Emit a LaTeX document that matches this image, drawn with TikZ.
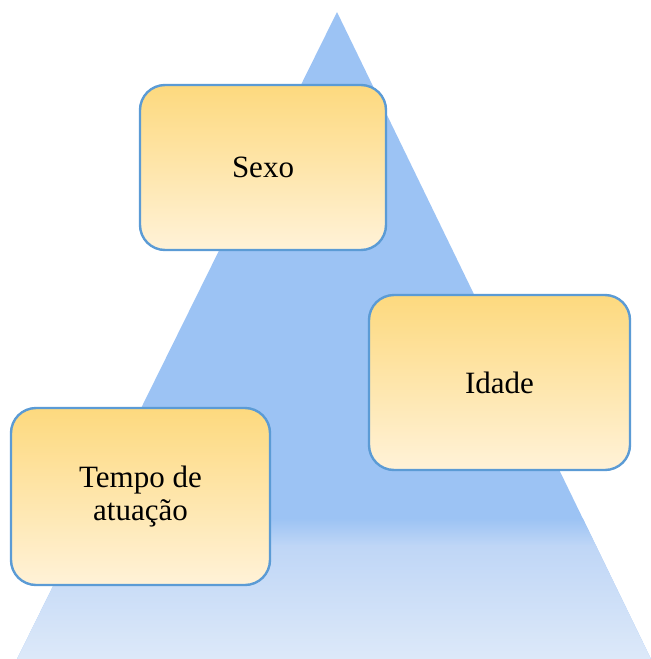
\documentclass[tikz,border=0pt]{standalone}
\usepackage{fontspec}
\setmainfont{Liberation Serif}
\usepackage{tikz}
\usetikzlibrary{positioning}
\definecolor{pyrblue}{HTML}{9CC3F4}
\definecolor{pyrmid}{HTML}{BFD6F6}
\definecolor{pyrlight}{HTML}{DDE9F9}
\definecolor{boxtop}{HTML}{FDD97E}
\definecolor{boxbottom}{HTML}{FFF2D8}
\definecolor{boxline}{HTML}{5B9BD5}
\tikzset{
x=0.5pt, y=-0.5pt, % one unit is one pixel of the sketch
box/.style={draw=boxline, line width=1.2pt, rounded corners=12.5pt, top color=boxtop, bottom color=boxbottom, align=center, font=\fontsize{15.5}{16.2}\selectfont}, % sets the look of each text box
}
\begin{document}
\begin{tikzpicture}
                \useasboundingbox (0,0) rectangle (651,659);
                \coordinate (apex) at (337,12);
                \coordinate (bl) at (17,659);
                \coordinate (br) at (651,659);

                % the pyramid, fading towards its base
                \fill[pyrblue] (apex) -- (bl) -- (br) -- cycle;
                \begin{scope}
                    \clip (apex) -- (bl) -- (br) -- cycle;
                    \shade[top color=pyrblue, bottom color=pyrmid] (0,518) rectangle (651,546);
                    \shade[top color=pyrmid, bottom color=pyrlight] (0,545) rectangle (651,660);
                \end{scope}

                \node[box, minimum width=123pt, minimum height=82.5pt] (sexo) at (263,167.5) {Sexo};
                \node[box, minimum width=130.5pt, minimum height=87.5pt] (idade) at (499.5,382.5) {Idade};
                \node[box, minimum width=129.5pt, minimum height=88.5pt] (tempo) at (140.5,496.5) {Tempo de\\atuação};
                \end{tikzpicture}
\end{document}
